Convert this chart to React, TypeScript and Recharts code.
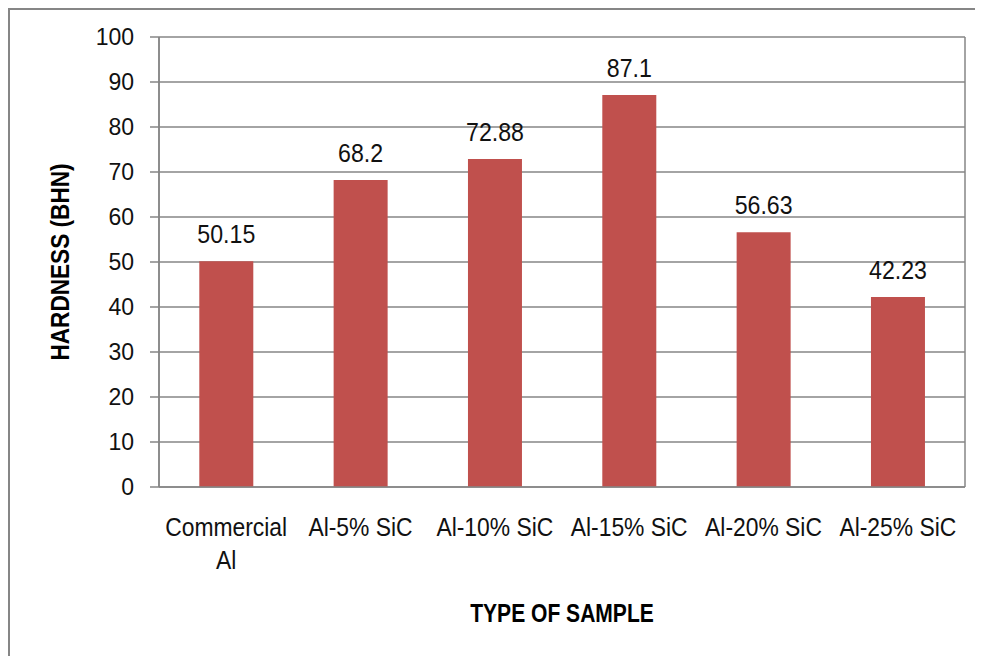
import React from 'react';
import { BarChart, Bar, XAxis, YAxis, CartesianGrid, LabelList } from 'recharts';

const samples = ['Commercial Al', 'Al-5% SiC', 'Al-10% SiC', 'Al-15% SiC', 'Al-20% SiC', 'Al-25% SiC'];
const hardness = [50.15, 68.2, 72.88, 87.1, 56.63, 42.23];
const yTicks = [0, 10, 20, 30, 40, 50, 60, 70, 80, 90, 100];
const boundaryTicks = [0, 1, 2, 3, 4, 5, 6];

const data = samples.map((s, i) => ({ sample: s, hardness: hardness[i] }));

const FONT = '"Liberation Sans", Arial, sans-serif';
const GRID = '#868686';

// no narrow font installed, so squeeze the text horizontally instead
const SampleTick = (props: any) => {
  const { x, y, payload } = props;
  const label: string = payload.value;
  // long names go on two lines like in the excel chart
  const lines = label.length > 12 ? label.split(' ') : [label];
  return (
    <g transform={`translate(${x},${y}) scale(0.88,1)`}>
      <text x={0} y={0} textAnchor="middle" fontSize={26} fontFamily={FONT} fill="#111">
        {lines.map((l, i) => (
          <tspan key={i} x={0} dy={i === 0 ? 19 : 33}>
            {l}
          </tspan>
        ))}
      </text>
    </g>
  );
};

const ValueLabel = (props: any) => {
  const { x, y, width, value } = props;
  return (
    <g transform={`translate(${x + width / 2},${y - 18}) scale(0.89,1)`}>
      <text x={0} y={0} textAnchor="middle" fontSize={26} fontFamily={FONT} fill="#111">
        {value}
      </text>
    </g>
  );
};

const App: React.FC = () => {
  return (
    <div
      style={{
        width: 975,
        height: 648,
        borderTop: `2px solid ${GRID}`,
        borderLeft: `2px solid ${GRID}`,
        boxSizing: 'border-box',
        overflow: 'hidden',
        background: '#fff',
      }}
    >
      <BarChart
        width={973}
        height={646}
        data={data}
        margin={{ top: 27, right: 18, left: 0, bottom: 0 }}
        barCategoryGap="30%"
      >
        <CartesianGrid xAxisId="b" stroke={GRID} strokeWidth={1.5} />
        <XAxis
          xAxisId="s"
          dataKey="sample"
          height={159}
          axisLine={false}
          tickLine={false}
          tickSize={0}
          tickMargin={20}
          tick={<SampleTick />}
          interval={0}
          label={({ viewBox }: any) => (
            <g transform={`translate(${viewBox.x + viewBox.width / 2},${viewBox.y + viewBox.height - 43}) scale(0.81,1)`}>
              <text
                x={0}
                y={0}
                textAnchor="middle"
                dominantBaseline="central"
                fontSize={26}
                fontWeight="bold"
                fontFamily={FONT}
                fill="#000"
              >
                TYPE OF SAMPLE
              </text>
            </g>
          )}
        />
        <XAxis
          xAxisId="b"
          type="number"
          domain={[0, 6]}
          ticks={boundaryTicks}
          allowDataOverflow
          height={10}
          tickSize={8}
          tick={false}
          axisLine={{ stroke: GRID, strokeWidth: 1.5 }}
          tickLine={{ stroke: GRID, strokeWidth: 1.5 }}
        />
        <YAxis
          width={149}
          domain={[0, 100]}
          ticks={yTicks}
          interval={0}
          tickSize={9}
          tickMargin={16}
          axisLine={{ stroke: GRID, strokeWidth: 1.5 }}
          tickLine={{ stroke: GRID, strokeWidth: 1.5 }}
          tick={{ fontSize: 23, fontFamily: FONT, fill: '#111' }}
          label={({ viewBox }: any) => (
            <g transform={`translate(${viewBox.x + 50},${viewBox.y + viewBox.height / 2}) rotate(-90) scale(0.87,1)`}>
              <text
                x={0}
                y={0}
                textAnchor="middle"
                dominantBaseline="central"
                fontSize={26}
                fontWeight="bold"
                fontFamily={FONT}
                fill="#000"
              >
                HARDNESS (BHN)
              </text>
            </g>
          )}
        />
        <Bar xAxisId="s" dataKey="hardness" fill="#C0504D" isAnimationActive={false}>
          <LabelList dataKey="hardness" content={<ValueLabel />} />
        </Bar>
      </BarChart>
    </div>
  );
};

export default App;
